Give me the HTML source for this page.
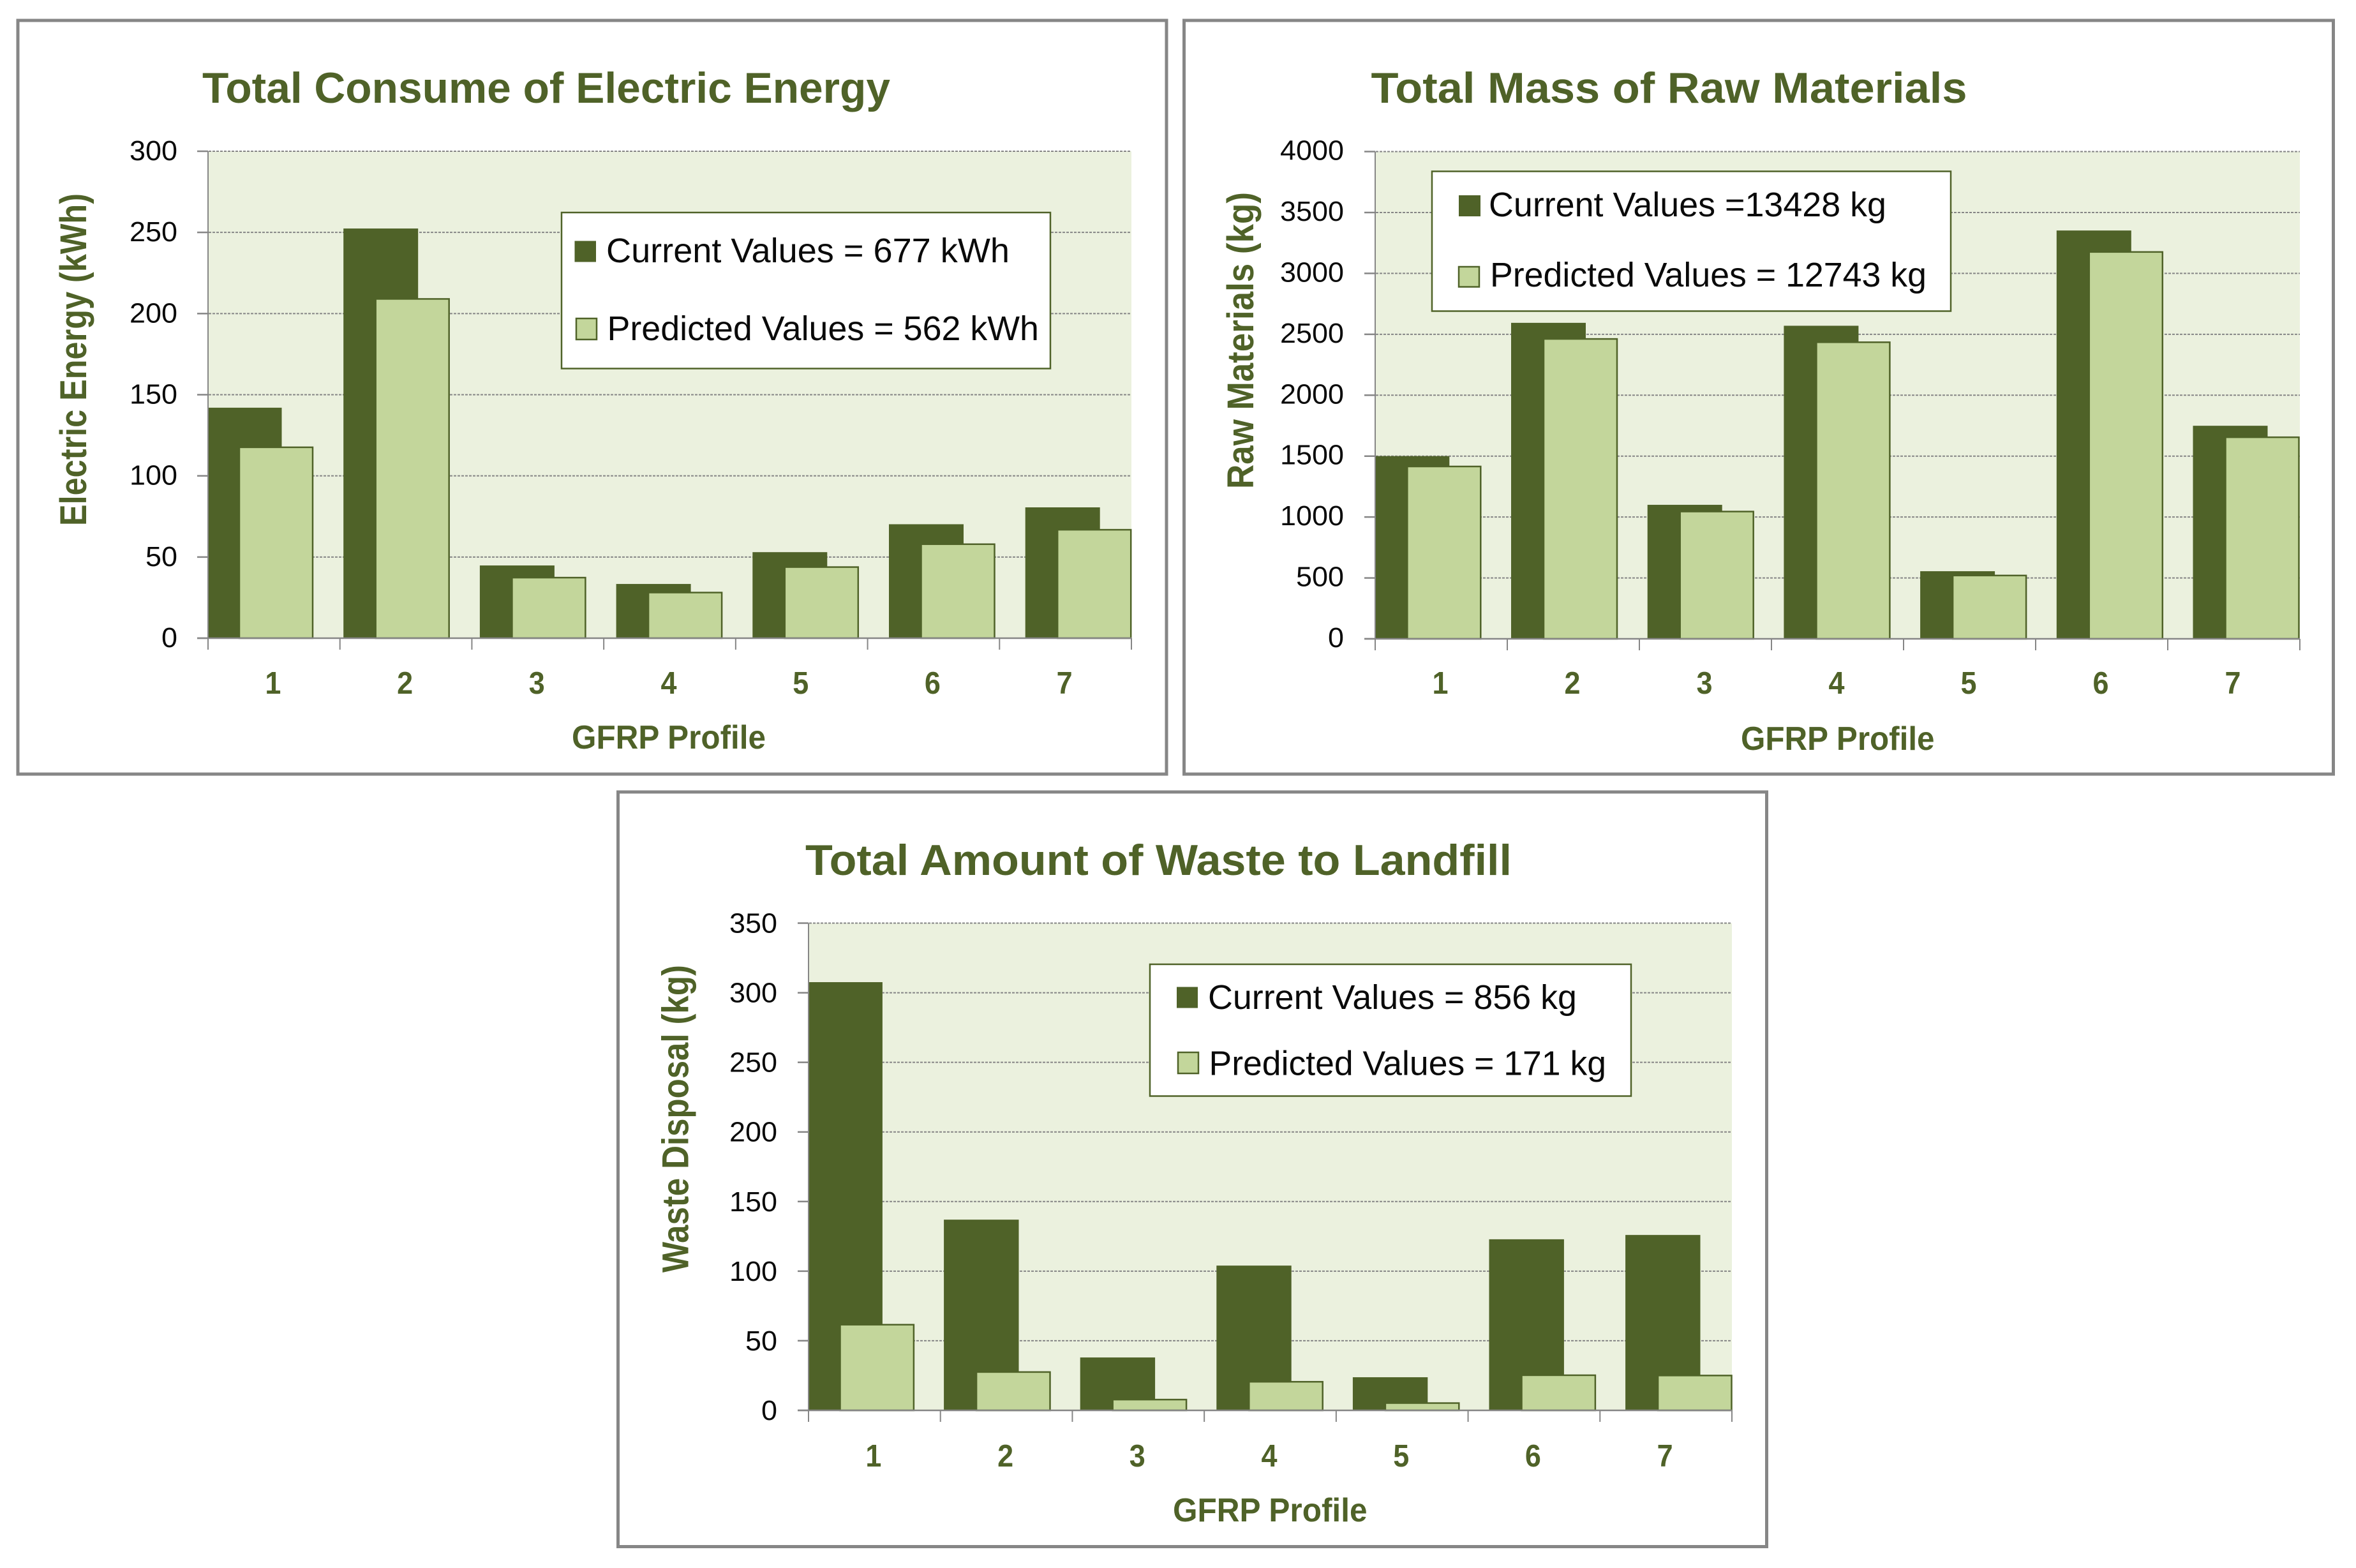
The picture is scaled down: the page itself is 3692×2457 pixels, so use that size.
<!DOCTYPE html>
<html lang="en">
<head>
<meta charset="utf-8">
<title>GFRP Profile Charts</title>
<style>
html,body{margin:0;padding:0;background:#fff;}
svg{display:block;font-family:"Liberation Sans",sans-serif;}
.title{font-size:68px;font-weight:700;fill:#4f6228;}
.axis-title{font-size:52px;font-weight:700;fill:#4f6228;}
.y-title{font-size:58px;font-weight:700;fill:#4f6228;}
.legend-text{font-size:54px;fill:#0a0a0a;}
.panel{fill:#fff;stroke:#868686;stroke-width:5;}
.plot-bg{fill:#ebf1de;}
.legend-box{fill:#fff;stroke:#4f6228;stroke-width:2.5;}
.swatch-current{fill:#4f6228;}
.swatch-predicted{fill:#c3d69b;stroke:#4f6228;stroke-width:2.5;}
</style>
</head>
<body>
<svg xmlns="http://www.w3.org/2000/svg" width="3692" height="2457" viewBox="0 0 3692 2457">
<rect x="0" y="0" width="3692" height="2457" fill="#fff"/>

<!-- Chart 1 -->
<g>
  <rect class="panel" x="28" y="32" width="1800" height="1181"/>
  <text class="title" x="317" y="161" textLength="1078" lengthAdjust="spacingAndGlyphs">Total Consume of Electric Energy</text>
  <rect class="plot-bg" x="326" y="237" width="1447" height="763"/>
  <g id="energy-grid"></g>
  <g id="energy-bars"></g>
  <g id="energy-axes"></g>
  <text class="y-title" transform="translate(135 824) rotate(-90)" textLength="521" lengthAdjust="spacingAndGlyphs">Electric Energy (kWh)</text>
  <text class="axis-title" x="896" y="1173" textLength="304" lengthAdjust="spacingAndGlyphs">GFRP Profile</text>
  <g>
    <rect class="legend-box" x="880" y="333" width="766" height="244.5"/>
    <rect class="swatch-current" x="900.5" y="377.5" width="33.5" height="33"/>
    <text class="legend-text" x="950" y="411" textLength="632" lengthAdjust="spacingAndGlyphs">Current Values = 677 kWh</text>
    <rect class="swatch-predicted" x="903" y="499" width="32" height="33"/>
    <text class="legend-text" x="951.5" y="533" textLength="676.5" lengthAdjust="spacingAndGlyphs">Predicted Values = 562 kWh</text>
  </g>
</g>

<!-- Chart 2 -->
<g>
  <rect class="panel" x="1855.5" y="32" width="1801" height="1181"/>
  <text class="title" x="2148.5" y="161" textLength="934" lengthAdjust="spacingAndGlyphs">Total Mass of Raw Materials</text>
  <rect class="plot-bg" x="2155" y="237.5" width="1449" height="763.5"/>
  <g id="materials-grid"></g>
  <g id="materials-bars"></g>
  <g id="materials-axes"></g>
  <text class="y-title" transform="translate(1964 766) rotate(-90)" textLength="465" lengthAdjust="spacingAndGlyphs">Raw Materials (kg)</text>
  <text class="axis-title" x="2728" y="1175" textLength="303.5" lengthAdjust="spacingAndGlyphs">GFRP Profile</text>
  <g>
    <rect class="legend-box" x="2244" y="268.5" width="813" height="219"/>
    <rect class="swatch-current" x="2286" y="306" width="34" height="33"/>
    <text class="legend-text" x="2333" y="339" textLength="623" lengthAdjust="spacingAndGlyphs">Current Values =13428 kg</text>
    <rect class="swatch-predicted" x="2286" y="418" width="32" height="31.5"/>
    <text class="legend-text" x="2335" y="449" textLength="684" lengthAdjust="spacingAndGlyphs">Predicted Values = 12743 kg</text>
  </g>
</g>

<!-- Chart 3 -->
<g>
  <rect class="panel" x="968.5" y="1241" width="1800" height="1182.5"/>
  <text class="title" x="1262" y="1371" textLength="1107" lengthAdjust="spacingAndGlyphs">Total Amount of Waste to Landfill</text>
  <rect class="plot-bg" x="1267" y="1446.5" width="1447" height="763.5"/>
  <g id="waste-grid"></g>
  <g id="waste-bars"></g>
  <g id="waste-axes"></g>
  <text class="y-title" transform="translate(1078.5 1994) rotate(-90)" textLength="482" lengthAdjust="spacingAndGlyphs">Waste Disposal (kg)</text>
  <text class="axis-title" x="1838" y="2384" textLength="304.5" lengthAdjust="spacingAndGlyphs">GFRP Profile</text>
  <g>
    <rect class="legend-box" x="1802" y="1511" width="754" height="206.5"/>
    <rect class="swatch-current" x="1844" y="1546.5" width="33" height="33"/>
    <text class="legend-text" x="1893" y="1581" textLength="578" lengthAdjust="spacingAndGlyphs">Current Values = 856 kg</text>
    <rect class="swatch-predicted" x="1846" y="1649" width="32" height="33"/>
    <text class="legend-text" x="1894.5" y="1684.5" textLength="622.5" lengthAdjust="spacingAndGlyphs">Predicted Values = 171 kg</text>
  </g>
</g>
</svg>

<script>
const categories = ["1", "2", "3", "4", "5", "6", "7"];

const energyTicks = [0, 50, 100, 150, 200, 250, 300];
const energyCurrent = [142, 252.4, 44.8, 33.4, 53, 70.2, 80.6];
const energyPredicted = [118, 209.4, 37.7, 28.5, 44.2, 58.3, 67.2];

const materialsTicks = [0, 500, 1000, 1500, 2000, 2500, 3000, 3500, 4000];
const materialsCurrent = [1500, 2594, 1100, 2570, 555, 3352, 1749];
const materialsPredicted = [1420, 2467, 1050, 2440, 525, 3181, 1660];

const wasteTicks = [0, 50, 100, 150, 200, 250, 300, 350];
const wasteCurrent = [307.6, 137, 38, 104, 23.8, 122.9, 126];
const wastePredicted = [62, 28, 8.2, 21, 5.7, 25.7, 25.5];

const SVG_NS = "http://www.w3.org/2000/svg";
const DARK = "#4f6228";
const LIGHT = "#c3d69b";
const AXIS = "#868686";

function svgEl(tag, attrs, parent) {
  const el = document.createElementNS(SVG_NS, tag);
  for (const key in attrs) el.setAttribute(key, attrs[key]);
  parent.appendChild(el);
  return el;
}

function drawChart(prefix, layout, labels, current, predicted, ticks) {
  const gridGroup = document.getElementById(prefix + "-grid");
  const barGroup = document.getElementById(prefix + "-bars");
  const axisGroup = document.getElementById(prefix + "-axes");
  const maxValue = ticks[ticks.length - 1];
  const categoryWidth = (layout.right - layout.left) / labels.length;

  const yScale = function (v) {
    return layout.bottom - (v / maxValue) * (layout.bottom - layout.top);
  };
  const tickX = function (i) {
    return layout.left + i * categoryWidth;
  };
  const barX = function (i) {
    return layout.barStart + i * layout.barStep;
  };

  ticks.forEach(function (tick) {
    const y = yScale(tick);
    if (tick !== 0) {
      const grid = svgEl("line", { x1: layout.left - 17, x2: layout.right, y1: y, y2: y, stroke: AXIS, "stroke-width": 2, "stroke-dasharray": "4 2" }, gridGroup);
      
      
    }
    const label = svgEl("text", { x: layout.left - layout.tickGap, y: y + layout.tickBaseline, "text-anchor": "end", "font-size": 44, fill: "#0a0a0a", textLength: String(tick).length * 25, lengthAdjust: "spacingAndGlyphs" }, axisGroup);
    label.textContent = tick;
    
    
    const mark = svgEl("line", { x1: layout.left - 17, x2: layout.left, y1: y, y2: y, stroke: AXIS, "stroke-width": 2.5 }, axisGroup);
    
    
  });

  labels.forEach(function (name, i) {
    const currentTop = yScale(current[i]);
    const currentLeft = Math.max(barX(i), layout.left);
    const currentBar = svgEl("rect", { x: currentLeft, y: currentTop, width: barX(i) + layout.barWidth - currentLeft, height: layout.bottom - currentTop, fill: DARK }, barGroup);
    
    

    const predictedTop = yScale(predicted[i]);
    const predictedBar = svgEl("rect", { x: barX(i) + layout.barOffset + 1, y: predictedTop + 1, width: layout.barWidth - 2, height: layout.bottom - predictedTop - 1, fill: LIGHT, stroke: DARK, "stroke-width": 2.5 }, barGroup);
    
    

    const tickMark = svgEl("line", { x1: tickX(i), x2: tickX(i), y1: layout.bottom, y2: layout.bottom + 18, stroke: AXIS, "stroke-width": 2 }, axisGroup);
    
    

    const label = svgEl("text", { x: tickX(i) + categoryWidth / 2 - 1.5, y: layout.bottom + layout.labelBaseline, "text-anchor": "middle", "font-size": 49, "font-weight": 700, fill: DARK, textLength: 25, lengthAdjust: "spacingAndGlyphs" }, axisGroup);
    label.textContent = name;
    
    
  });

  const endTick = svgEl("line", { x1: layout.right, x2: layout.right, y1: layout.bottom, y2: layout.bottom + 18, stroke: AXIS, "stroke-width": 2 }, axisGroup);
  
  

  const xAxis = svgEl("line", { x1: layout.left - 17, x2: layout.right, y1: layout.bottom, y2: layout.bottom, stroke: AXIS, "stroke-width": 2.5 }, axisGroup);
  
  

  const yAxis = svgEl("line", { x1: layout.left, x2: layout.left, y1: layout.top, y2: layout.bottom, stroke: AXIS, "stroke-width": 2 }, axisGroup);
  
  
}

drawChart("energy", { left: 326, right: 1773, top: 237, bottom: 1000, barStart: 324.5, barStep: 213.7, barWidth: 117, barOffset: 49.5, tickGap: 48, tickBaseline: 14, labelBaseline: 87 }, categories, energyCurrent, energyPredicted, energyTicks);
drawChart("materials", { left: 2155, right: 3604, top: 237.5, bottom: 1001, barStart: 2154.3, barStep: 213.7, barWidth: 117, barOffset: 50, tickGap: 49, tickBaseline: 13, labelBaseline: 86 }, categories, materialsCurrent, materialsPredicted, materialsTicks);
drawChart("waste", { left: 1267, right: 2714, top: 1446.5, bottom: 2210, barStart: 1265.5, barStep: 213.6, barWidth: 117.4, barOffset: 50, tickGap: 49, tickBaseline: 15, labelBaseline: 88 }, categories, wasteCurrent, wastePredicted, wasteTicks);
</script>
</body>
</html>
